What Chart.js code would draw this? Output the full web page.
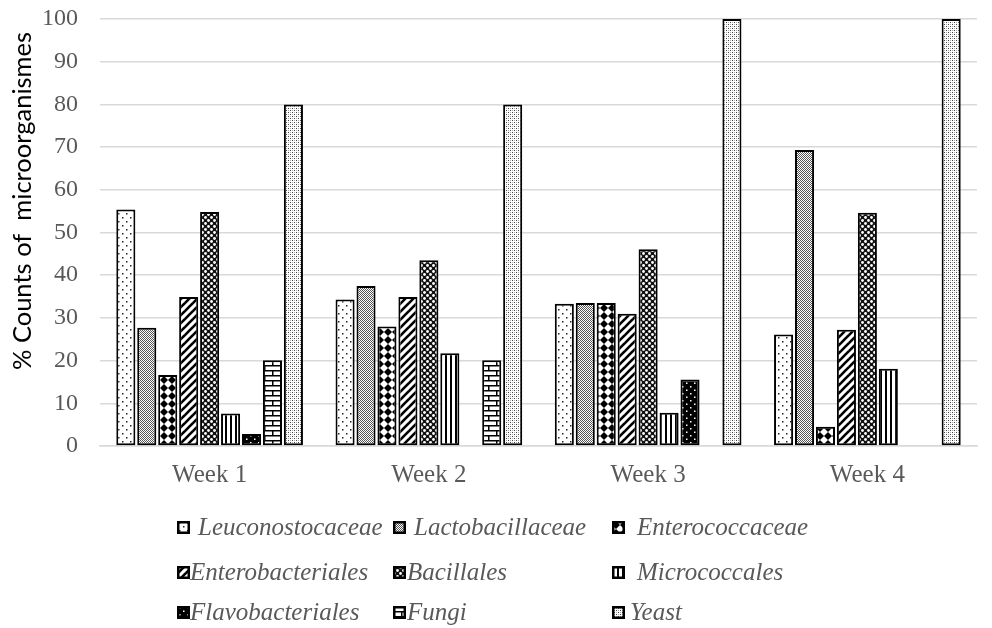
<!DOCTYPE html>
<html>
<head>
<meta charset="utf-8">
<script src="https://cdn.jsdelivr.net/npm/chart.js@4.4.1/dist/chart.umd.min.js"></script>
<style>
html,body{margin:0;padding:0;background:#fff;}
#wrap{position:relative;width:992px;height:628px;overflow:hidden;}
#c{position:absolute;left:0;top:0;}
.sw{position:absolute;width:13px;height:13px;}
.lt{position:absolute;font-family:"Liberation Serif","Times New Roman",serif;font-style:italic;font-size:25px;line-height:1;color:#595959;white-space:nowrap;}
</style>
</head>
<body>
<div id="wrap">
<canvas id="c" width="992" height="628"></canvas>
</div>
<script>
// ---- data ----
const categories = ['Week 1', 'Week 2', 'Week 3', 'Week 4'];
const seriesNames = ['Leuconostocaceae', 'Lactobacillaceae', 'Enterococcaceae', 'Enterobacteriales', 'Bacillales', 'Micrococcales', 'Flavobacteriales', 'Fungi', 'Yeast'];
const leuconostocaceae = [55.4, 34.3, 33.3, 26.1];
const lactobacillaceae = [27.7, 37.5, 33.5, 69.3];
const enterococcaceae = [16.6, 28.0, 33.5, 4.5];
const enterobacteriales = [34.9, 34.9, 31.0, 27.2];
const bacillales = [54.8, 43.5, 46.1, 54.6];
const micrococcales = [7.6, 21.7, 7.8, 18.1];
const flavobacteriales = [2.8, null, 15.6, null];
const fungi = [20.1, 20.1, null, null];
const yeast = [80, 80, 100, 100];
const yTicks = [0, 10, 20, 30, 40, 50, 60, 70, 80, 90, 100];
const yTitle = '% Counts of  microorganismes';

const seriesValues = [leuconostocaceae, lactobacillaceae, enterococcaceae, enterobacteriales, bacillales, micrococcales, flavobacteriales, fungi, yeast];

// ---- pattern tiles ----
function tile(w, h, bg, draw) {
  const c = document.createElement('canvas');
  c.width = w; c.height = h;
  const x = c.getContext('2d');
  x.fillStyle = bg; x.fillRect(0, 0, w, h);
  draw(x, w, h);
  return c;
}
const tiles = [
  // Leuconostocaceae: sparse dots
  tile(8, 8, '#fff', x => { x.fillStyle = '#222'; x.fillRect(2, 1, 1.5, 1.5); x.fillRect(6, 5, 1.5, 1.5); }),
  // Lactobacillaceae: dense gray
  tile(2, 2, '#fff', x => { x.fillStyle = '#555'; x.fillRect(0, 0, 1, 1); x.fillRect(1, 1, 1, 1); }),
  // Enterococcaceae: solid diamond
  tile(8, 8, '#fff', x => { x.fillStyle = '#000'; x.beginPath(); x.moveTo(4, 0); x.lineTo(8, 4); x.lineTo(4, 8); x.lineTo(0, 4); x.closePath(); x.fill(); }),
  // Enterobacteriales: wide upward diagonal
  tile(8, 8, '#fff', x => { x.strokeStyle = '#000'; x.lineWidth = 2.6; for (let k = -1; k <= 1; k++) { x.beginPath(); x.moveTo(k * 8 - 1, 9); x.lineTo(k * 8 + 9, -1); x.stroke(); } }),
  // Bacillales: dark with white blobs
  tile(6, 6, '#111', x => { x.fillStyle = '#fff'; x.beginPath(); x.arc(1.5, 1.5, 1.4, 0, Math.PI * 2); x.fill(); x.beginPath(); x.arc(4.5, 4.5, 1.4, 0, Math.PI * 2); x.fill(); }),
  // Micrococcales: vertical lines
  tile(5, 5, '#fff', x => { x.fillStyle = '#000'; x.fillRect(0, 0, 2, 5); }),
  // Flavobacteriales: black with white dots
  tile(8, 7, '#000', x => { x.fillStyle = '#fff'; x.fillRect(2, 1, 1.5, 1.5); x.fillRect(6, 4.5, 1.5, 1.5); }),
  // Fungi: horizontal brick
  tile(16, 10, '#fff', x => { x.fillStyle = '#000'; x.fillRect(0, 0, 16, 1.5); x.fillRect(0, 5, 16, 1.5); x.fillRect(0, 0, 1.5, 5); x.fillRect(8, 5, 1.5, 5); }),
  // Yeast: fine light dots
  tile(4, 4, '#fff', x => { x.fillStyle = '#444'; x.fillRect(0, 0, 1, 1); x.fillRect(2, 2, 1, 1); x.fillStyle = '#aaa'; x.fillRect(2, 0, 1, 1); x.fillRect(0, 2, 1, 1); })
];

const canvas = document.getElementById('c');
const ctx = canvas.getContext('2d');
const patterns = tiles.map(t => ctx.createPattern(t, 'repeat'));

const datasets = seriesNames.map((name, i) => ({
  label: name,
  data: seriesValues[i],
  backgroundColor: patterns[i],
  borderColor: '#000',
  borderWidth: 2,
  borderSkipped: false,
  categoryPercentage: 0.86,
  barPercentage: 0.91
}));

const yTitlePlugin = {
  id: 'yTitle',
  afterDraw(chart) {
    const c = chart.ctx;
    c.save();
    c.translate(23, 201);
    c.rotate(-Math.PI / 2);
    c.font = '25.5px Lato';
    c.fillStyle = '#000';
    c.textAlign = 'center';
    c.textBaseline = 'middle';
    c.fillText(yTitle, 0, 0);
    c.restore();
  }
};

new Chart(ctx, {
  type: 'bar',
  data: { labels: categories, datasets },
  options: {
    responsive: false,
    animation: false,
    devicePixelRatio: 1,
    layout: { padding: { left: 0, right: 15, top: 19, bottom: 0 } },
    plugins: { legend: { display: false }, tooltip: { enabled: false } },
    scales: {
      x: {
        grid: { display: false, drawTicks: false },
        border: { display: true, color: '#d9d9d9', width: 1.5 },
        ticks: { color: '#595959', font: { family: 'Liberation Serif', size: 25 }, padding: 14 },
        afterFit(s) { s.height = 182; s.paddingLeft = 0; s.paddingRight = 0; }
      },
      y: {
        min: 0, max: 100,
        afterBuildTicks(s) { s.ticks = yTicks.map(v => ({ value: v })); },
        grid: { color: '#d9d9d9', lineWidth: 1.5, drawTicks: false },
        border: { display: false },
        ticks: { color: '#595959', font: { family: 'Liberation Serif', size: 24 }, padding: 22 },
        afterFit(s) { s.width = 100; s.paddingTop = 0; s.paddingBottom = 0; }
      }
    }
  },
  plugins: [yTitlePlugin]
});

// ---- legend (HTML, real text) ----
const legendPos = [
  { bx: 177, tx: 198, cy: 527 }, { bx: 393, tx: 414, cy: 527 }, { bx: 612, tx: 637, cy: 527 },
  { bx: 177, tx: 190, cy: 572 }, { bx: 393, tx: 407, cy: 572 }, { bx: 612, tx: 637, cy: 572 },
  { bx: 177, tx: 190, cy: 612 }, { bx: 393, tx: 407, cy: 612 }, { bx: 612, tx: 630, cy: 612 }
];
const wrap = document.getElementById('wrap');
seriesNames.forEach((name, i) => {
  const p = legendPos[i];
  const sw = document.createElement('canvas');
  sw.width = 13; sw.height = 13; sw.className = 'sw';
  sw.style.left = p.bx + 'px'; sw.style.top = (p.cy - 6) + 'px';
  const sx = sw.getContext('2d');
  sx.fillStyle = sx.createPattern(tiles[i], 'repeat');
  sx.fillRect(0, 0, 13, 13);
  sx.strokeStyle = '#000'; sx.lineWidth = 2.5; sx.strokeRect(1.25, 1.25, 10.5, 10.5);
  wrap.appendChild(sw);
  const t = document.createElement('span');
  t.className = 'lt';
  t.textContent = name;
  t.style.left = p.tx + 'px'; t.style.top = (p.cy - 13) + 'px';
  wrap.appendChild(t);
});
</script>
</body>
</html>
